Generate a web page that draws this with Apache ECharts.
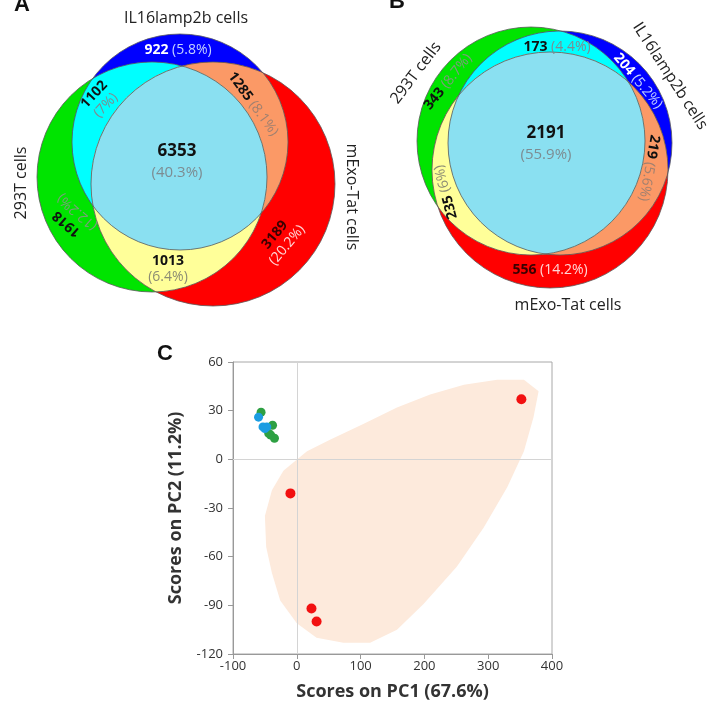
<!DOCTYPE html>
<html>
<head>
<meta charset="utf-8">
<script src="https://cdn.jsdelivr.net/npm/echarts@6/dist/echarts.min.js"></script>
<style>
html,body{margin:0;padding:0;background:#fff}
#main{width:720px;height:711px}
</style>
</head>
<body>
<div id="main"></div>
<script>
// ---- data ----
// venn regions: G=293T, B=IL16lamp2b, R=mExo-Tat
const regionKeys = ['G', 'B', 'R', 'GB', 'BR', 'GR', 'GBR'];
const setNames = {G: '293T cells', B: 'IL16lamp2b cells', R: 'mExo-Tat cells'};
const vennACounts = [1918, 922, 3189, 1102, 1285, 1013, 6353];
const vennAPct = ['12.2%', '5.8%', '20.2%', '7%', '8.1%', '6.4%', '40.3%'];
const vennBCounts = [343, 204, 556, 173, 219, 235, 2191];
const vennBPct = ['8.7%', '5.2%', '14.2%', '4.4%', '5.6%', '6%', '55.9%'];

// PCA scores (PC1, PC2)
const pcRed = [[352, 37], [-10, -21], [23, -92], [31, -100]];
const pcGreen = [[-56, 29], [-38, 21], [-41, 15], [-35, 13], [-44, 16]];
const pcBlue = [[-60, 26], [-53, 20], [-47, 20], [-50, 19]];
// shaded region around the mExo-Tat samples
const pcHull = [[379, 42], [356, 49], [314, 49], [262, 46], [209, 40], [157, 32], [105, 22],
  [52, 12], [16, 5], [-21, -7], [-39, -19], [-50, -35], [-48, -54], [-39, -70], [-26, -87],
  [0, -101], [31, -110], [73, -113], [115, -113], [157, -105], [199, -89], [251, -66],
  [293, -42], [330, -17], [356, 5], [371, 26]];
const xTicks = {min: -100, max: 400, step: 100};
const yTicks = {min: -120, max: 60, step: 30};

// ---- layout (pixels of the hidden venn grid) ----
const circlesA = {G: [152, 177, 115], B: [180, 142, 108], R: [213, 184, 122]};
const circlesB = {G: [531, 141, 114], B: [560, 143, 112], R: [550, 170, 118]};
const fills = {G: '#00e400', B: '#0000ff', R: '#ff0000', GB: '#00ffff', BR: '#fb9966', GR: '#ffff99', GBR: '#8ae0f1'};
const numColor = {G: '#111', B: '#ffffff', R: '#3a0000', GB: '#111', BR: '#111', GR: '#111', GBR: '#111'};
const pctColor = {G: '#7c9c7c', B: '#c4d2ff', R: '#ffd6d6', GB: '#7d8c92', BR: '#a08070', GR: '#8c8c74', GBR: '#7d8c92'};
// [x, y, rotation deg, stacked]
const labelsA = {G: [72, 218, 139, 1], B: [178, 50, 0, 0], R: [281, 240, 50, 1], GB: [100, 100, 47, 1],
  BR: [253, 104, -54, 0], GR: [168, 269, 0, 1], GBR: [177, 162, 0, 1]};
const labelsB = {G: [448, 82, 51, 0], B: [638, 81, -50, 0], R: [550, 270, 0, 0], GB: [557, 47, 0, 0],
  BR: [649, 168, -100, 0], GR: [446, 192, 105, 0], GBR: [546, 144, 0, 1]};
const namesA = {B: [186, 18, 0], G: [21, 183, 90], R: [352, 197, -90]};
const namesB = {G: [416, 73, 53], B: [670, 76, -57], R: [568, 305, 0]};

const FONT = '"Open Sans", "Liberation Sans", sans-serif';

function inside(p, c) { return Math.hypot(p[0] - c[0], p[1] - c[1]) <= c[2] + 0.01; }
function crossings(a, b) {
  const dx = b[0] - a[0], dy = b[1] - a[1], d = Math.hypot(dx, dy);
  if (d === 0 || d > a[2] + b[2] || d < Math.abs(a[2] - b[2])) return [];
  const l = (a[2] * a[2] - b[2] * b[2] + d * d) / (2 * d);
  const h = Math.sqrt(Math.max(0, a[2] * a[2] - l * l));
  const mx = a[0] + l * dx / d, my = a[1] + l * dy / d;
  return [[mx - h * dy / d, my + h * dx / d], [mx + h * dy / d, my - h * dx / d]];
}
// polygon of the intersection of several circles
function regionPoints(cs) {
  const pts = [];
  cs.forEach((c, i) => {
    for (let k = 0; k < 360; k++) {
      const a = k / 360 * Math.PI * 2;
      const p = [c[0] + c[2] * Math.cos(a), c[1] + c[2] * Math.sin(a)];
      if (cs.every((o, j) => j === i || inside(p, o))) pts.push(p);
    }
  });
  for (let i = 0; i < cs.length; i++) {
    for (let j = i + 1; j < cs.length; j++) {
      crossings(cs[i], cs[j]).forEach(p => {
        if (cs.every((o, k) => k === i || k === j || inside(p, o))) pts.push(p);
      });
    }
  }
  let mx = 0, my = 0;
  pts.forEach(p => { mx += p[0]; my += p[1]; });
  mx /= pts.length; my /= pts.length;
  pts.sort((a, b) => Math.atan2(a[1] - my, a[0] - mx) - Math.atan2(b[1] - my, b[0] - mx));
  return pts;
}

function toPx(api, c) {
  const p = api.coord([c[0], c[1]]);
  return [p[0], p[1], api.size([c[2], 0])[0]];
}

function vennSeries(circles, counts, pcts, labels, names) {
  return [{
    type: 'custom',
    xAxisIndex: 1, yAxisIndex: 1,
    silent: true,
    data: regionKeys.map((k, i) => [i]),
    renderItem: function (params, api) {
      const key = regionKeys[api.value(0)];
      const cs = key.split('').map(s => toPx(api, circles[s]));
      if (cs.length === 1) {
        return {type: 'circle', shape: {cx: cs[0][0], cy: cs[0][1], r: cs[0][2]}, style: {fill: fills[key]}};
      }
      return {type: 'polygon', shape: {points: regionPoints(cs)}, style: {fill: fills[key]}};
    }
  }, {
    type: 'custom',
    xAxisIndex: 1, yAxisIndex: 1,
    silent: true,
    data: ['G', 'B', 'R'].map((k, i) => [i]),
    renderItem: function (params, api) {
      const c = toPx(api, circles['GBR'[api.value(0)]]);
      return {type: 'circle', shape: {cx: c[0], cy: c[1], r: c[2]}, style: {fill: null, stroke: '#5a5a5a', lineWidth: 0.8}};
    }
  }, {
    type: 'custom',
    xAxisIndex: 1, yAxisIndex: 1,
    silent: true,
    data: regionKeys.map((k, i) => [i]),
    renderItem: function (params, api) {
      const i = api.value(0), key = regionKeys[i], L = labels[key];
      const p = api.coord([L[0], L[1]]);
      const big = key === 'GBR';
      return {
        type: 'text', x: p[0], y: p[1], rotation: L[2] * Math.PI / 180,
        style: {
          text: '{n|' + counts[i] + '}' + (L[3] ? '\n' : ' ') + '{p|(' + pcts[i] + ')}',
          align: 'center', verticalAlign: 'middle', fontFamily: FONT, fontSize: 14,
          rich: {
            n: {fill: numColor[key], fontFamily: FONT, fontWeight: 'bold', fontSize: big ? 17 : 14, lineHeight: big ? 21 : 16},
            p: {fill: pctColor[key], fontFamily: FONT, fontSize: big ? 15 : 14, lineHeight: big ? 21 : 16}
          }
        }
      };
    }
  }, {
    type: 'custom',
    xAxisIndex: 1, yAxisIndex: 1,
    silent: true,
    data: Object.keys(names).map((k, i) => [i]),
    renderItem: function (params, api) {
      const key = Object.keys(names)[api.value(0)], L = names[key];
      const p = api.coord([L[0], L[1]]);
      return {
        type: 'text', x: p[0], y: p[1], rotation: L[2] * Math.PI / 180,
        style: {text: setNames[key], align: 'center', verticalAlign: 'middle', fill: '#222', fontFamily: FONT, fontSize: 16}
      };
    }
  }];
}

const chart = echarts.init(document.getElementById('main'));
chart.setOption({
  animation: false,
  backgroundColor: '#fff',
  grid: [
    {left: 233, top: 362, width: 319, height: 292, show: true, borderColor: '#a8a8a8', borderWidth: 1},
    {left: 0, top: 0, right: 0, bottom: 0}
  ],
  xAxis: [{
    type: 'value', gridIndex: 0, min: xTicks.min, max: xTicks.max, interval: xTicks.step,
    name: 'Scores on PC1 (67.6%)', nameLocation: 'middle', nameGap: 29,
    nameTextStyle: {fontFamily: FONT, fontWeight: 'bold', fontSize: 18, color: '#333'},
    axisLine: {onZero: false, lineStyle: {color: '#999'}},
    axisTick: {length: 5, lineStyle: {color: '#999'}},
    axisLabel: {fontFamily: FONT, fontSize: 13, color: '#333', margin: 6},
    splitLine: {show: false}
  }, {
    type: 'value', gridIndex: 1, min: 0, max: 720, show: false
  }],
  yAxis: [{
    type: 'value', gridIndex: 0, min: yTicks.min, max: yTicks.max, interval: yTicks.step,
    name: 'Scores on PC2 (11.2%)', nameLocation: 'middle', nameGap: 48,
    nameTextStyle: {fontFamily: FONT, fontWeight: 'bold', fontSize: 18, color: '#333'},
    axisLine: {show: true, onZero: false, lineStyle: {color: '#999'}},
    axisTick: {show: true, length: 5, lineStyle: {color: '#999'}},
    axisLabel: {fontFamily: FONT, fontSize: 13, color: '#333', margin: 10},
    splitLine: {show: false}
  }, {
    type: 'value', gridIndex: 1, min: 0, max: 711, inverse: true, show: false
  }],
  graphic: [
    {type: 'text', left: 14, top: -6, style: {text: 'A', fontFamily: '"Liberation Sans", Arial', fontWeight: 'bold', fontSize: 22, fill: '#111'}},
    {type: 'text', left: 389, top: -9, style: {text: 'B', fontFamily: '"Liberation Sans", Arial', fontWeight: 'bold', fontSize: 22, fill: '#111'}},
    {type: 'text', left: 157, top: 343, style: {text: 'C', fontFamily: '"Liberation Sans", Arial', fontWeight: 'bold', fontSize: 22, fill: '#111'}}
  ],
  series: [
    {
      type: 'custom', xAxisIndex: 0, yAxisIndex: 0, silent: true, z: 1,
      data: [[0]],
      renderItem: function (params, api) {
        return {type: 'polygon', shape: {points: pcHull.map(p => api.coord(p))}, style: {fill: '#fdeadc'}};
      },
      markLine: {
        silent: true, symbol: 'none', label: {show: false},
        lineStyle: {color: '#d4d4d4', width: 1, type: 'solid'},
        data: [{xAxis: 0}, {yAxis: 0}]
      }
    },
    {type: 'scatter', xAxisIndex: 0, yAxisIndex: 0, z: 3, symbolSize: 10, itemStyle: {color: '#f21010', opacity: 1}, data: pcRed},
    {type: 'scatter', xAxisIndex: 0, yAxisIndex: 0, z: 3, symbolSize: 9, itemStyle: {color: '#2ea043', opacity: 1}, data: pcGreen},
    {type: 'scatter', xAxisIndex: 0, yAxisIndex: 0, z: 4, symbolSize: 9, itemStyle: {color: '#1b9de2', opacity: 1}, data: pcBlue}
  ].concat(
    vennSeries(circlesA, vennACounts, vennAPct, labelsA, namesA),
    vennSeries(circlesB, vennBCounts, vennBPct, labelsB, namesB)
  )
});
</script>
</body>
</html>
